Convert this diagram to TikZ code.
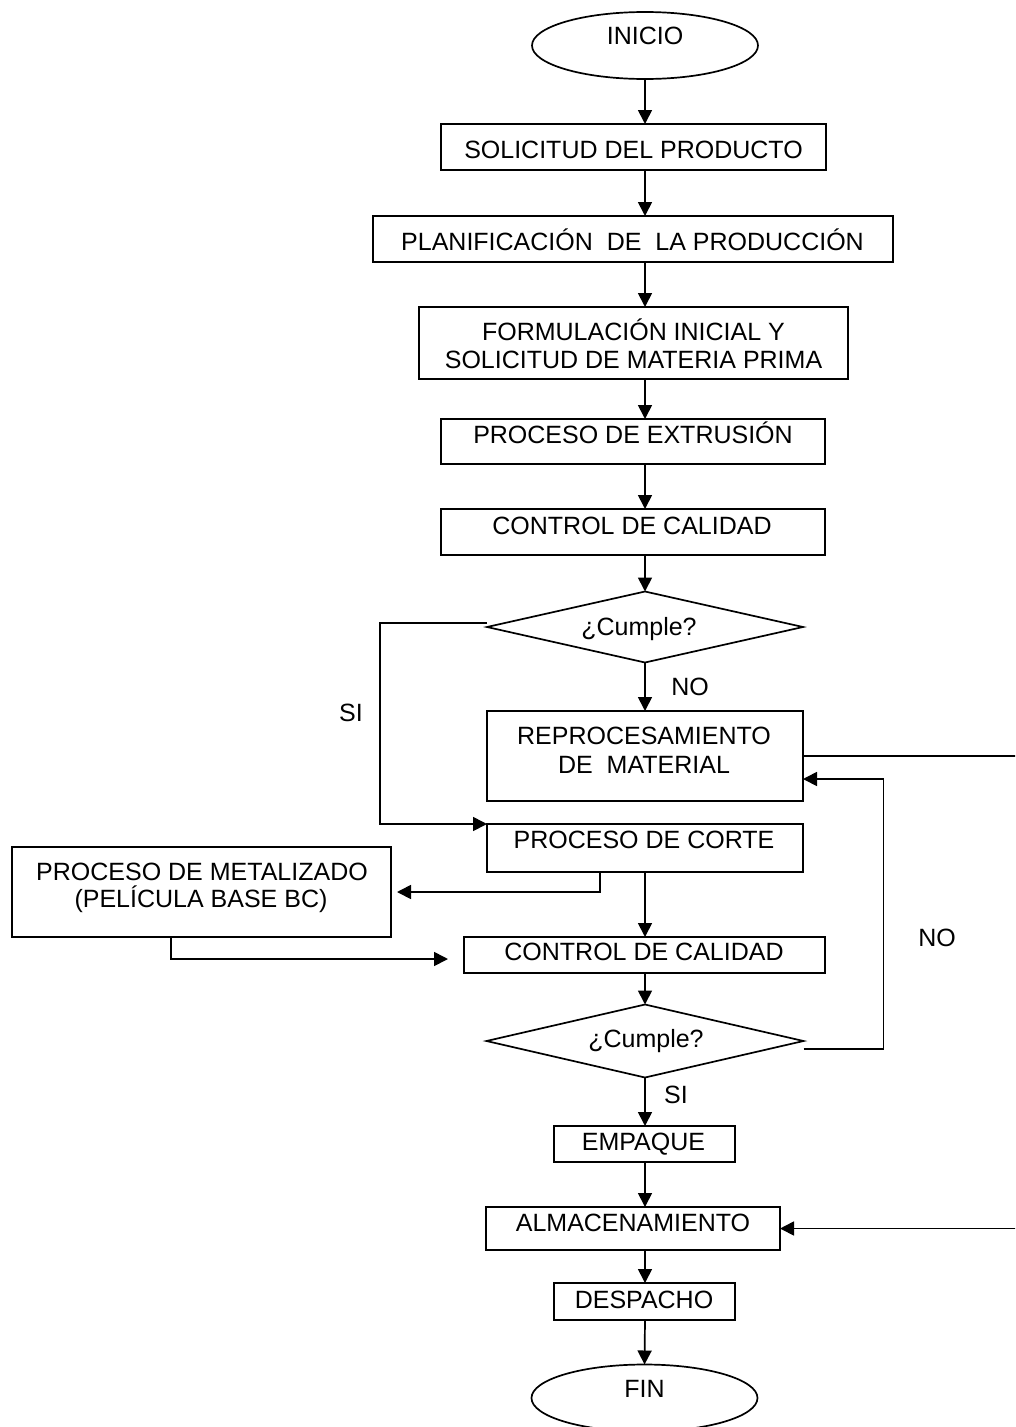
\documentclass[tikz,border=0pt]{standalone}
\usepackage{fontspec}
\setmainfont{Liberation Sans}
\usetikzlibrary{arrows.meta,shapes.geometric}
\begin{document}
\begin{tikzpicture}[x=1pt,y=-1pt,
  stepbox/.style={draw, rectangle, line width=1.7pt, inner sep=0pt, outer sep=0pt},
  decision/.style={draw, diamond, line width=1.7pt, inner sep=0pt, outer sep=0pt},
  terminal/.style={draw, ellipse, line width=1.7pt, inner sep=0pt, outer sep=0pt,
                   minimum width=226pt, minimum height=67pt},
  lbl/.style={inner sep=0pt, anchor=base, font=\fontsize{25}{29}\selectfont},
  flow/.style={line width=1.7pt, -{Triangle[length=14pt,width=14pt]}},
  wire/.style={line width=1.7pt}
]
% canvas
\useasboundingbox (0,0) rectangle (1015,1427);
\fill[white] (0,0) rectangle (1015,1427);
\clip (0,0) rectangle (1015,1427);

% main column of connectors
\coordinate (col) at (645,0);

% shapes
\node[terminal] (ini) at (645,45.5) {};
\node[stepbox, minimum width=385pt, minimum height=46pt] (sol) at (633.5,147) {};
\node[stepbox, minimum width=520pt, minimum height=46pt] (plan) at (633,239) {};
\node[stepbox, minimum width=429pt, minimum height=72pt] (form) at (633.5,343) {};
\node[stepbox, minimum width=384pt, minimum height=45pt] (ext) at (633,441.5) {};
\node[stepbox, minimum width=384pt, minimum height=46pt] (ctl1) at (633,532) {};
\node[decision, minimum width=316pt, minimum height=71pt] (d1) at (645,627) {};
\node[stepbox, minimum width=316pt, minimum height=90pt] (reproc) at (645,756) {};
\node[stepbox, minimum width=316pt, minimum height=48pt] (corte) at (645,848) {};
\node[stepbox, minimum width=379pt, minimum height=90pt] (metal) at (201.5,892) {};
\node[stepbox, minimum width=361pt, minimum height=36pt] (ctl2) at (644.5,955) {};
\node[decision, minimum width=317pt, minimum height=73pt] (d2) at (645,1041) {};
\node[stepbox, minimum width=181pt, minimum height=36pt] (empq) at (644.5,1144) {};
\node[stepbox, minimum width=294pt, minimum height=43pt] (almac) at (633,1228.5) {};
\node[stepbox, minimum width=181pt, minimum height=37pt] (desp) at (644.5,1301.5) {};
\node[terminal] (fin) at (644.5,1398) {};

% texts
\node[lbl] (ini-t) at (645,44) {INICIO};
\node[lbl] (sol-t) at (633.5,158) {SOLICITUD DEL PRODUCTO};
\node[lbl] (plan-t) at (632.5,250) {PLANIFICACIÓN\ \ DE\ \ LA PRODUCCIÓN};
\node[lbl] (form-t1) at (633.5,340) {FORMULACIÓN INICIAL Y};
\node[lbl] (form-t2) at (633.5,368) {SOLICITUD DE MATERIA PRIMA};
\node[lbl] (ext-t) at (633,443) {PROCESO DE EXTRUSIÓN};
\node[lbl] (ctl1-t) at (632,534) {CONTROL DE CALIDAD};
\node[lbl] (d1-t) at (639,635) {¿Cumple?};
\node[lbl] (no1) at (690,695) {NO};
\node[lbl] (si1) at (351,721) {SI};
\node[lbl] (reproc-t1) at (644,744) {REPROCESAMIENTO};
\node[lbl] (reproc-t2) at (644,773) {DE\ \ MATERIAL};
\node[lbl] (corte-t) at (644,848) {PROCESO DE CORTE};
\node[lbl] (metal-t1) at (202,880) {PROCESO DE METALIZADO};
\node[lbl] (metal-t2) at (201,907) {(PELÍCULA BASE BC)};
\node[lbl] (ctl2-t) at (644,960) {CONTROL DE CALIDAD};
\node[lbl] (no2) at (937,946) {NO};
\node[lbl] (d2-t) at (646,1047) {¿Cumple?};
\node[lbl] (si2) at (676,1103) {SI};
\node[lbl] (empq-t) at (643.5,1150) {EMPAQUE};
\node[lbl] (almac-t) at (633,1231) {ALMACENAMIENTO};
\node[lbl] (desp-t) at (644,1308) {DESPACHO};
\node[lbl] (fin-t) at (644.5,1397) {FIN};

% main flow
\draw[flow] (ini.south) -- (col |- sol.north);
\draw[flow] (col |- sol.south) -- (col |- plan.north);
\draw[flow] (col |- plan.south) -- (col |- form.north);
\draw[flow] (col |- form.south) -- (col |- ext.north);
\draw[flow] (col |- ext.south) -- (col |- ctl1.north);
\draw[flow] (col |- ctl1.south) -- (d1.north);
\draw[flow] (d1.south) -- (reproc.north);
\draw[flow] (corte.south) -- (col |- ctl2.north);
\draw[flow] (col |- ctl2.south) -- (d2.north);
\draw[flow] (d2.south) -- (col |- empq.north);
\draw[flow] (col |- empq.south) -- (col |- almac.north);
\draw[flow] (col |- almac.south) -- (col |- desp.north);
\draw[flow] (col |- desp.south) -- (fin.north);

% branches
\draw[flow] ([yshift=4pt]d1.west) -- ++(-107,0) |- (corte.north west);
\draw[flow] ([xshift=-45pt]corte.south) |- ([xshift=6pt]metal.east);
\draw[flow] ([xshift=-30.5pt]metal.south) |- ([xshift=-16pt,yshift=-4pt]ctl2.west);
\draw[flow] ([yshift=-8pt]d2.east) -- ++(80,0) |- ([yshift=-23pt]reproc.east);
\draw[flow] (reproc.east) -- (1030,756) |- (almac.east);
\end{tikzpicture}
\end{document}
